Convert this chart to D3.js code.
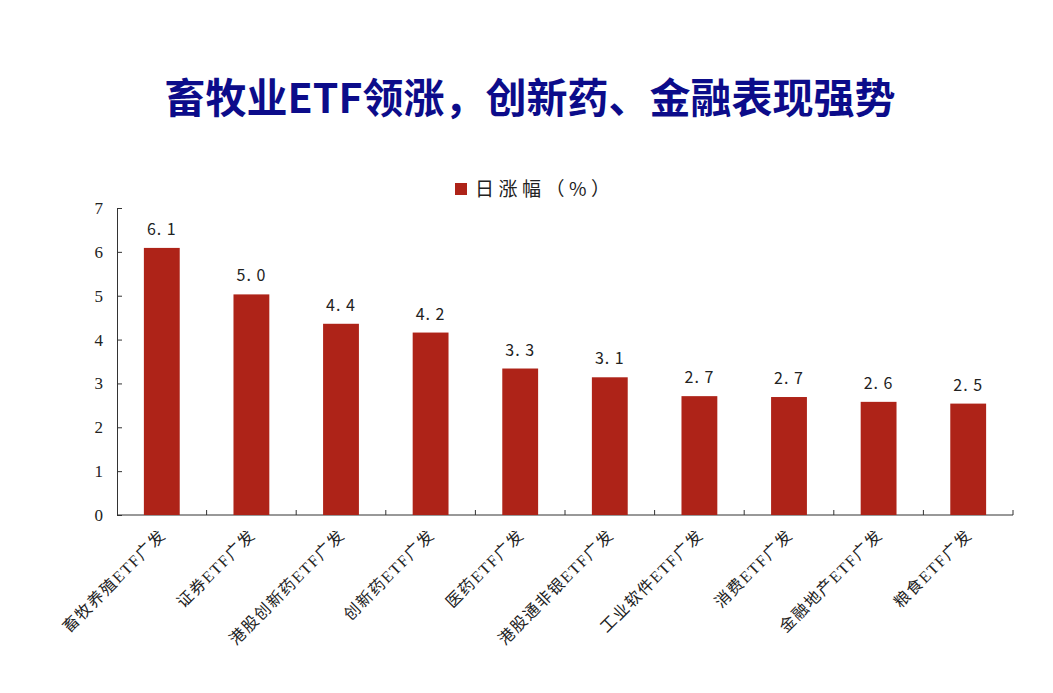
<!DOCTYPE html>
<html>
<head>
<meta charset="utf-8">
<script src="https://cdn.jsdelivr.net/npm/d3@7"></script>
<style>
  body { margin: 0; background: #fff; }
  svg { display: block; }
</style>
</head>
<body>
<svg id="chart"></svg>
<script>
// data
var categories = ["畜牧养殖ETF广发", "证券ETF广发", "港股创新药ETF广发", "创新药ETF广发", "医药ETF广发",
                  "港股通非银ETF广发", "工业软件ETF广发", "消费ETF广发", "金融地产ETF广发", "粮食ETF广发"];
var values = [6.09, 5.03, 4.36, 4.16, 3.34, 3.14, 2.71, 2.69, 2.58, 2.54];
var yTicks = [0, 1, 2, 3, 4, 5, 6, 7];
var seriesName = "日涨幅（%）";
var titleText = "畜牧业ETF领涨，创新药、金融表现强势";

var width = 1053, height = 693;
var margin = {left: 117, right: 40, top: 208, bottom: 178};

var svg = d3.select("#chart")
  .attr("width", width)
  .attr("height", height);

// title
svg.append("text")
  .attr("x", 530)
  .attr("y", 113)
  .attr("text-anchor", "middle")
  .attr("font-family", "'Noto Sans CJK SC', 'Liberation Serif', serif")
  .attr("font-weight", "bold")
  .attr("font-size", 41)
  .attr("fill", "#0c0c8a")
  .text(titleText);

var xScale = d3.scaleBand()
  .domain(categories)
  .range([margin.left, width - margin.right])
  .paddingInner(0.6)
  .paddingOuter(0.3);

var yScale = d3.scaleLinear()
  .domain([0, 7])
  .range([height - margin.bottom, margin.top]);

var y0 = yScale(0);

// y axis, ticks point into the plot
var yAxis = d3.axisLeft(yScale)
  .tickValues(yTicks)
  .tickSize(-5)
  .tickPadding(14)
  .tickFormat(d3.format("d"));

var gy = svg.append("g")
  .attr("transform", "translate(" + margin.left + ",0)")
  .call(yAxis);
gy.selectAll("text")
  .attr("font-family", "'Liberation Serif', serif")
  .attr("font-size", 17)
  .attr("fill", "#222");
gy.selectAll("line, path").attr("stroke", "#333");

// x axis: line plus ticks at band edges pointing up
var xg = svg.append("g");
xg.append("line")
  .attr("x1", margin.left).attr("x2", width - margin.right)
  .attr("y1", y0).attr("y2", y0)
  .attr("stroke", "#333");

var step = xScale.step();
var edges = categories.map(function(d) { return xScale(d) + xScale.bandwidth() / 2 + step / 2; });
xg.selectAll(".xt")
  .data(edges)
  .enter().append("line")
  .attr("x1", function(d) { return d; })
  .attr("x2", function(d) { return d; })
  .attr("y1", y0).attr("y2", y0 - 5)
  .attr("stroke", "#333");

// bars
svg.append("g")
  .selectAll("rect")
  .data(values)
  .enter().append("rect")
  .attr("x", function(d, i) { return xScale(categories[i]); })
  .attr("width", xScale.bandwidth())
  .attr("y", function(d) { return yScale(d); })
  .attr("height", function(d) { return y0 - yScale(d); })
  .attr("fill", "#ae2318");

// value labels
svg.append("g")
  .selectAll("text")
  .data(values)
  .enter().append("text")
  .attr("x", function(d, i) { return xScale(categories[i]) + xScale.bandwidth() / 2; })
  .attr("y", function(d) { return yScale(d) - 13; })
  .attr("text-anchor", "middle")
  .attr("font-family", "'Noto Sans CJK SC', sans-serif")
  .attr("font-size", 16)
  .attr("letter-spacing", 1)
  .attr("fill", "#222")
  .text(function(d) { return d.toFixed(1).replace(".", ". "); });

// category labels rotated -45
svg.append("g")
  .selectAll("text")
  .data(categories)
  .enter().append("text")
  .attr("transform", function(d) {
    var cx = xScale(d) + xScale.bandwidth() / 2 + 5;
    return "translate(" + cx + "," + (y0 + 21) + ") rotate(-45)";
  })
  .attr("text-anchor", "end")
  .attr("font-family", "'Liberation Serif', 'Noto Sans CJK SC', serif")
  .attr("font-size", 16)
  .attr("letter-spacing", 1.5)
  .attr("fill", "#222")
  .text(function(d) { return d; });

// legend
var legend = svg.append("g").attr("transform", "translate(455,183)");
legend.append("rect")
  .attr("width", 12).attr("height", 12)
  .attr("fill", "#ae2318");
legend.append("text")
  .attr("x", 20).attr("y", 13)
  .attr("font-family", "'Noto Sans CJK SC', sans-serif")
  .attr("font-size", 19)
  .attr("letter-spacing", 4.5)
  .attr("fill", "#222")
  .text(seriesName);
</script>
</body>
</html>
